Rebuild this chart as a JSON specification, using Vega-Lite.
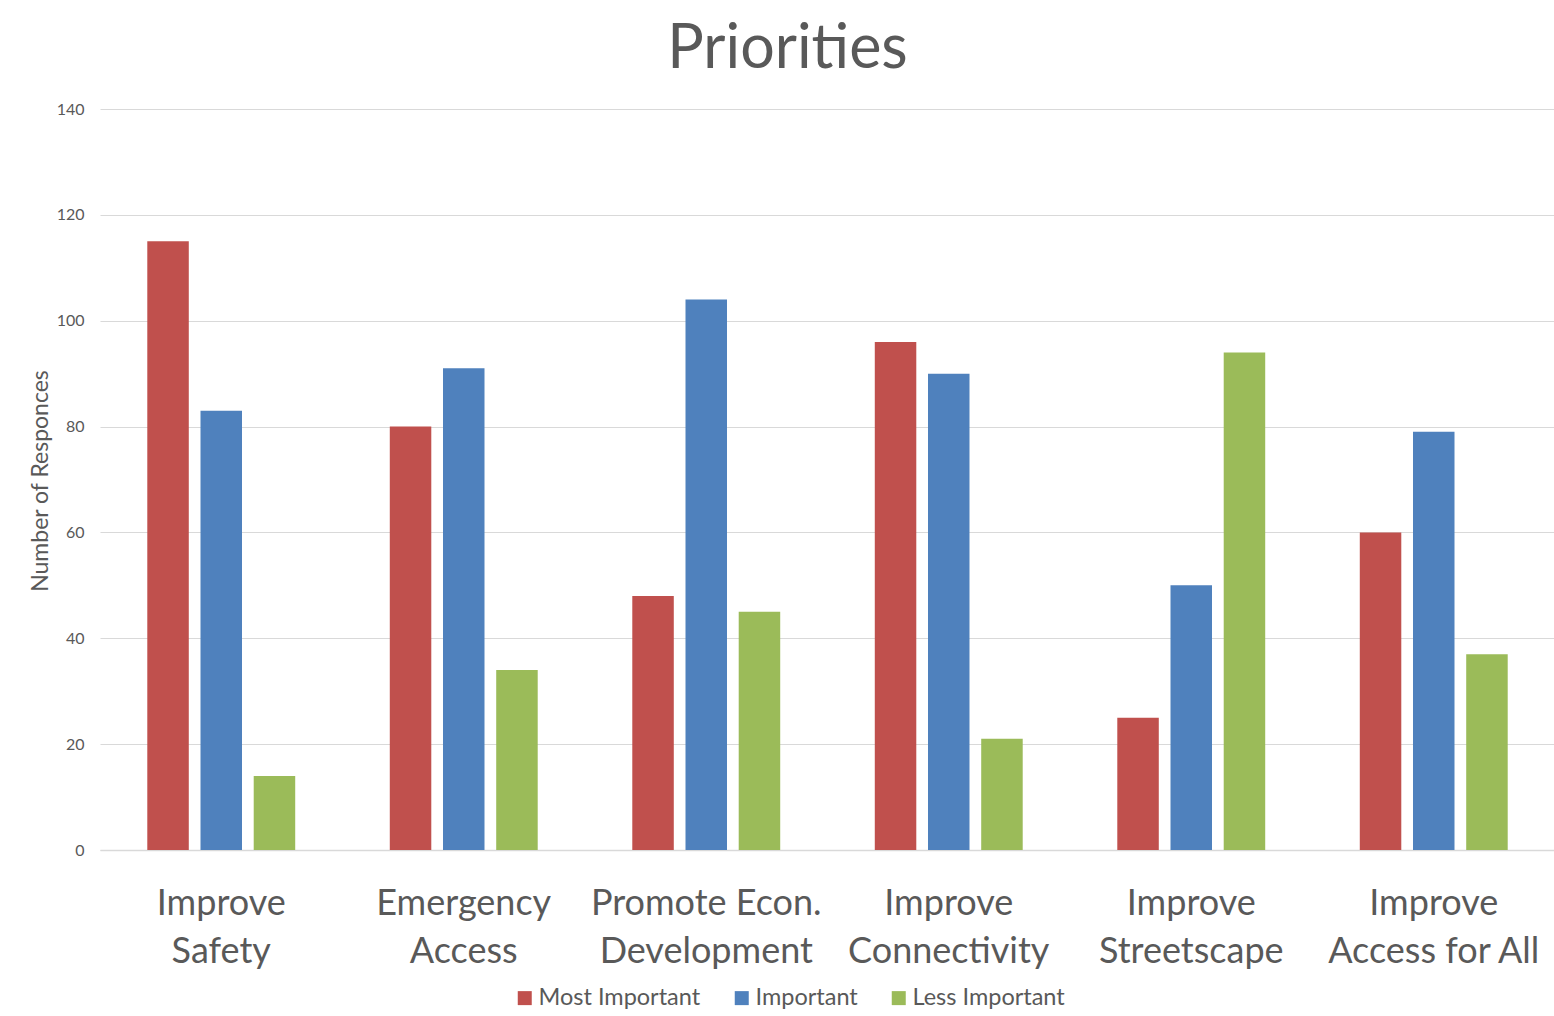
{
  "$schema": "https://vega.github.io/schema/vega-lite/v6.json",
  "width": 1455,
  "height": 741,
  "autosize": {"type": "none"},
  "padding": {"left": 100, "top": 109, "right": 0, "bottom": 166},
  "background": "white",
  "title": {
    "text": "Priorities",
    "font": "Lato",
    "fontSize": 61,
    "fontWeight": "normal",
    "color": "#595959",
    "anchor": "middle",
    "offset": 20,
    "dx": -40
  },
  "data": {
    "values": [
      {"category": "Improve Safety", "level": "Most Important", "responses": 115},
      {"category": "Improve Safety", "level": "Important", "responses": 83},
      {"category": "Improve Safety", "level": "Less Important", "responses": 14},
      {"category": "Emergency Access", "level": "Most Important", "responses": 80},
      {"category": "Emergency Access", "level": "Important", "responses": 91},
      {"category": "Emergency Access", "level": "Less Important", "responses": 34},
      {"category": "Promote Econ. Development", "level": "Most Important", "responses": 48},
      {"category": "Promote Econ. Development", "level": "Important", "responses": 104},
      {"category": "Promote Econ. Development", "level": "Less Important", "responses": 45},
      {"category": "Improve Connectivity", "level": "Most Important", "responses": 96},
      {"category": "Improve Connectivity", "level": "Important", "responses": 90},
      {"category": "Improve Connectivity", "level": "Less Important", "responses": 21},
      {"category": "Improve Streetscape", "level": "Most Important", "responses": 25},
      {"category": "Improve Streetscape", "level": "Important", "responses": 50},
      {"category": "Improve Streetscape", "level": "Less Important", "responses": 94},
      {"category": "Improve Access for All", "level": "Most Important", "responses": 60},
      {"category": "Improve Access for All", "level": "Important", "responses": 79},
      {"category": "Improve Access for All", "level": "Less Important", "responses": 37}
    ]
  },
  "mark": {"type": "bar"},
  "encoding": {
    "x": {
      "field": "category",
      "type": "nominal",
      "sort": null,
      "scale": {"paddingInner": 0.39, "paddingOuter": 0.195},
      "axis": {
        "title": null,
        "labelAngle": 0,
        "labelFont": "Lato",
        "labelFontSize": 36,
        "labelColor": "#595959",
        "labelLineHeight": 48,
        "labelPadding": 53,
        "labelBaseline": "middle",
        "labelLimit": 0,
        "labelOverlap": false,
        "labelExpr": "datum.label == 'Promote Econ. Development' ? ['Promote Econ.', 'Development'] : [substring(datum.label, 0, indexof(datum.label, ' ')), substring(datum.label, indexof(datum.label, ' ') + 1)]",
        "ticks": false,
        "domainColor": "#d9d9d9",
        "domainWidth": 1.5,
        "grid": false
      }
    },
    "xOffset": {
      "field": "level",
      "type": "nominal",
      "sort": ["Most Important", "Important", "Less Important"],
      "scale": {"paddingInner": 0.22, "paddingOuter": 0}
    },
    "y": {
      "field": "responses",
      "type": "quantitative",
      "scale": {"domain": [0, 140]},
      "axis": {
        "title": "Number of Responces",
        "titleFont": "Lato",
        "titleFontSize": 23,
        "titleFontWeight": "normal",
        "titleColor": "#595959",
        "titleAngle": -90,
        "titleX": -60,
        "titleY": 371.5,
        "titleAlign": "center",
        "titleBaseline": "middle",
        "values": [0, 20, 40, 60, 80, 100, 120, 140],
        "labelFont": "Lato",
        "labelFontSize": 16,
        "labelColor": "#595959",
        "labelPadding": 16,
        "ticks": false,
        "domain": false,
        "gridColor": "#d9d9d9",
        "gridWidth": 1.2
      }
    },
    "color": {
      "field": "level",
      "type": "nominal",
      "sort": ["Most Important", "Important", "Less Important"],
      "scale": {
        "domain": ["Most Important", "Important", "Less Important"],
        "range": ["#C0504D", "#4F81BD", "#9BBB59"]
      },
      "legend": {
        "title": null,
        "orient": "none",
        "direction": "horizontal",
        "legendX": 413,
        "legendY": 877,
        "symbolType": "square",
        "symbolSize": 196,
        "symbolStrokeWidth": 0,
        "labelFont": "Lato",
        "labelFontSize": 23.5,
        "labelColor": "#595959",
        "labelOffset": 2,
        "labelLimit": 0,
        "columnPadding": 29
      }
    }
  },
  "config": {
    "view": {"stroke": null}
  }
}
